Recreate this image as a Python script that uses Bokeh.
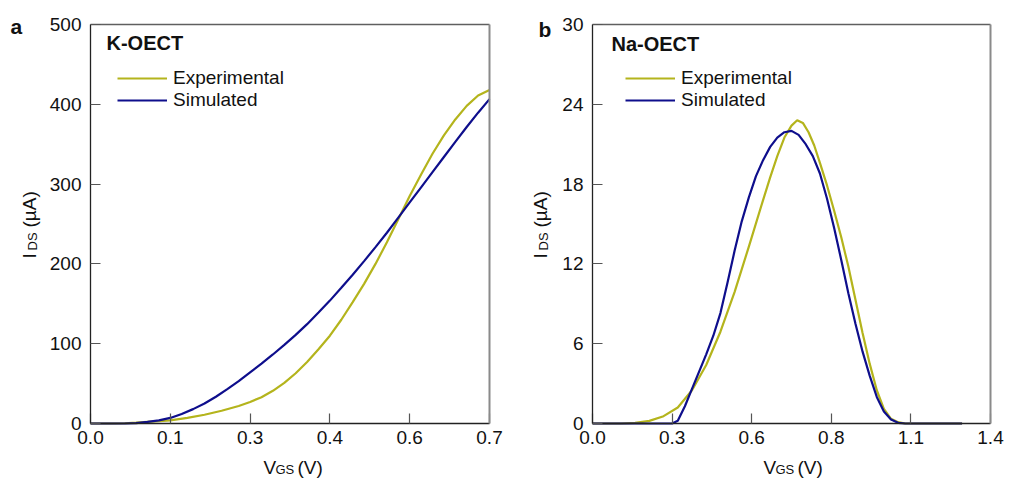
import math
from bokeh.plotting import figure
from bokeh.layouts import row
from bokeh.models import Range1d, FixedTicker, Label, Legend, LegendItem, LinearAxis
from bokeh.embed import file_html
from bokeh.resources import INLINE

# ---------------- data ----------------
# Panel a: K-OECT
k_v_exp = [0.0, 0.04, 0.06, 0.08, 0.1, 0.12, 0.14, 0.17, 0.2, 0.23, 0.26, 0.28,
           0.3, 0.32, 0.34, 0.36, 0.38, 0.4, 0.42, 0.44, 0.46, 0.48, 0.5, 0.52,
           0.54, 0.56, 0.58, 0.6, 0.62, 0.64, 0.66, 0.68, 0.7]
k_exp = [0, 0, 0.3, 1, 2, 3, 4, 7, 11, 16, 22, 27,
         33, 41, 51, 63, 77, 93, 110, 130, 152, 175, 200, 227,
         256, 285, 312, 338, 361, 381, 398, 411, 418]
k_v_sim = [0.0, 0.04, 0.06, 0.08, 0.1, 0.12, 0.14, 0.16, 0.18, 0.2, 0.22, 0.24,
           0.26, 0.28, 0.3, 0.32, 0.34, 0.36, 0.38, 0.4, 0.42, 0.44, 0.46, 0.48,
           0.5, 0.52, 0.54, 0.56, 0.58, 0.6, 0.62, 0.64, 0.66, 0.68, 0.7]
k_sim = [0, 0, 0, 0.5, 2, 4, 7, 12, 18, 25, 33.5, 43,
         53, 64, 75, 86.5, 98.5, 111, 124.5, 139, 154, 170, 186.5, 203.5,
         221, 239, 258, 277, 296, 315, 334, 353, 371.5, 389.5, 406.5]

# Panel b: Na-OECT
na_v_exp = [0.0, 0.1, 0.15, 0.2, 0.25, 0.3, 0.35, 0.4, 0.45, 0.5, 0.55, 0.6,
            0.625, 0.65, 0.675, 0.7, 0.72, 0.74, 0.76, 0.78, 0.8, 0.825, 0.85,
            0.875, 0.9, 0.925, 0.95, 0.975, 1.0, 1.025, 1.05, 1.075, 1.1, 1.3]
na_exp = [0, 0, 0.05, 0.2, 0.55, 1.2, 2.5, 4.4, 6.9, 9.9, 13.3, 16.8,
          18.5, 20.1, 21.5, 22.4, 22.8, 22.6, 21.9, 20.9, 19.6, 17.9, 16.0,
          14.0, 11.8, 9.3, 6.8, 4.5, 2.5, 1.1, 0.35, 0.1, 0, 0]
na_v_sim = [0.0, 0.1, 0.2, 0.28, 0.3, 0.325, 0.35, 0.375, 0.4, 0.425, 0.45,
            0.475, 0.5, 0.525, 0.55, 0.575, 0.6, 0.625, 0.65, 0.675, 0.7,
            0.725, 0.75, 0.775, 0.8, 0.825, 0.85, 0.875, 0.9, 0.925, 0.95,
            0.975, 1.0, 1.025, 1.05, 1.075, 1.1, 1.3]
na_sim = [0, 0, 0, 0, 0.2, 1.3, 2.6, 3.9, 5.2, 6.6, 8.3,
          10.6, 13.0, 15.2, 17.0, 18.6, 19.8, 20.8, 21.5, 21.9, 22.0,
          21.7, 21.0, 20.1, 18.8, 16.9, 14.7, 12.3, 9.8, 7.5, 5.4,
          3.6, 2.0, 0.9, 0.3, 0.05, 0, 0]

# ticks
k_xticks = [0.0, 0.14, 0.28, 0.42, 0.56, 0.7]
k_xlabels = ["0.0", "0.1", "0.3", "0.4", "0.6", "0.7"]
k_yticks = [0, 100, 200, 300, 400, 500]
na_xticks = [0.0, 0.28, 0.56, 0.84, 1.12, 1.4]
na_xlabels = ["0.0", "0.3", "0.6", "0.8", "1.1", "1.4"]
na_yticks = [0, 6, 12, 18, 24, 30]

series_names = ["Experimental", "Simulated"]
COL_EXP = "#B4B41C"
COL_SIM = "#0E0E8C"
FONT = "Liberation Sans"
TXT = "#111111"

W, H = 505, 479
BOX_TOP, BOX_BOTTOM = 24, 423


def lab(p, x, y, dx, dy, text, size, bold=False, angle=0.0):
    p.add_layout(Label(x=x, y=y, x_offset=dx, y_offset=dy, text=text, angle=angle,
                       text_font=FONT, text_font_size=size, text_color=TXT,
                       text_font_style="bold" if bold else "normal",
                       text_baseline="alphabetic"))


def panel(xr, yr, xticks, xlabels, yticks, xs_exp, ys_exp, xs_sim, ys_sim,
          title, letter, box_left, box_right, ylab_off, letter_off, title_off,
          legend_x, xlab_off):
    # frame covers the whole figure; the data box is placed via range padding
    sx = (box_right - box_left) / (xr[1] - xr[0])
    sy = (BOX_BOTTOM - BOX_TOP) / (yr[1] - yr[0])
    x_range = Range1d(xr[0] - box_left / sx, xr[1] + (W - box_right) / sx)
    y_range = Range1d(yr[0] - (H - BOX_BOTTOM) / sy, yr[1] + BOX_TOP / sy)
    p = figure(width=W, height=H, output_backend="svg", toolbar_location=None,
               x_range=x_range, y_range=y_range,
               x_axis_location=None, y_axis_location=None,
               min_border=0)
    p.title.visible = False
    p.xgrid.visible = False
    p.ygrid.visible = False
    p.outline_line_color = None
    p.background_fill_color = "white"
    p.border_fill_color = "white"

    # box border (top / right)
    top = LinearAxis(fixed_location=yr[1], bounds=xr, ticker=FixedTicker(ticks=[]),
                     axis_line_color="#5f5f5f", axis_line_width=1.3,
                     major_tick_in=0, major_tick_out=0, minor_tick_line_color=None,
                     major_label_text_font_size="0px")
    right = LinearAxis(fixed_location=xr[1], bounds=yr, ticker=FixedTicker(ticks=[]),
                       axis_line_color="#8a8a8a", axis_line_width=2,
                       major_tick_in=0, major_tick_out=0, minor_tick_line_color=None,
                       major_label_text_font_size="0px")
    p.add_layout(top, "above")
    p.add_layout(right, "right")

    xaxis = LinearAxis(fixed_location=yr[0], bounds=xr, ticker=FixedTicker(ticks=xticks))
    yaxis = LinearAxis(fixed_location=xr[0], bounds=yr, ticker=FixedTicker(ticks=yticks))
    for ax in (xaxis, yaxis):
        ax.axis_line_color = "#222222"
        ax.axis_line_width = 1.3
        ax.major_tick_in = 10
        ax.major_tick_out = 0
        ax.major_tick_line_color = "#555555"
        ax.major_tick_line_width = 1.2
        ax.minor_tick_line_color = None
        ax.major_label_text_font = FONT
        ax.major_label_text_font_size = "19px"
        ax.major_label_text_color = TXT
    xaxis.major_label_overrides = {t: l for t, l in zip(xticks, xlabels)}
    xaxis.major_label_standoff = 7
    yaxis.major_label_standoff = 9
    p.add_layout(xaxis, "below")
    p.add_layout(yaxis, "left")

    r1 = p.line(xs_exp, ys_exp, line_color=COL_EXP, line_width=2.2)
    r2 = p.line(xs_sim, ys_sim, line_color=COL_SIM, line_width=2.2)

    legend = Legend(items=[LegendItem(label=series_names[0], renderers=[r1]),
                           LegendItem(label=series_names[1], renderers=[r2])],
                    location=(legend_x, 368), glyph_width=50, glyph_height=20,
                    label_height=20, label_standoff=6, spacing=0, padding=0,
                    margin=0, border_line_alpha=0, background_fill_alpha=0,
                    label_text_font=FONT, label_text_font_size="19px",
                    label_text_color=TXT)
    p.add_layout(legend)

    x0, y0 = xr[0], yr[0]
    y1 = yr[1]
    lab(p, x0, y1, letter_off[0], letter_off[1], letter, "21px", bold=True)
    lab(p, x0, y1, title_off[0], title_off[1], title, "20px", bold=True)
    # x axis label V_GS (V)
    xl = xlab_off
    lab(p, x0, y0, xl, -44, "V", "19px")
    lab(p, x0, y0, xl + 12, -46, "GS", "13px")
    lab(p, x0, y0, xl + 34, -44, "(V)", "19px")
    # y axis label I_DS (µA)
    a = math.pi / 2
    lab(p, x0, y0, ylab_off, 165, "I", "19px", angle=a)
    lab(p, x0, y0, ylab_off + 3, 173, "DS", "13px", angle=a)
    lab(p, x0, y0, ylab_off, 196, "(µA)", "19px", angle=a)
    return p


pa = panel((0, 0.7), (0, 500), k_xticks, k_xlabels, k_yticks,
           k_v_exp, k_exp, k_v_sim, k_sim, "K-OECT", "a", 90, 489, -61, (-80, -2),
           (16, -18), 117, 173)
pb = panel((0, 1.4), (0, 30), na_xticks, na_xlabels, na_yticks,
           na_v_exp, na_exp, na_v_sim, na_sim, "Na-OECT", "b", 87, 485, -52, (-54, -5),
           (19, -19), 120, 171)

layout = row(pa, pb)
open("out.html", "w").write(file_html(layout, INLINE))
